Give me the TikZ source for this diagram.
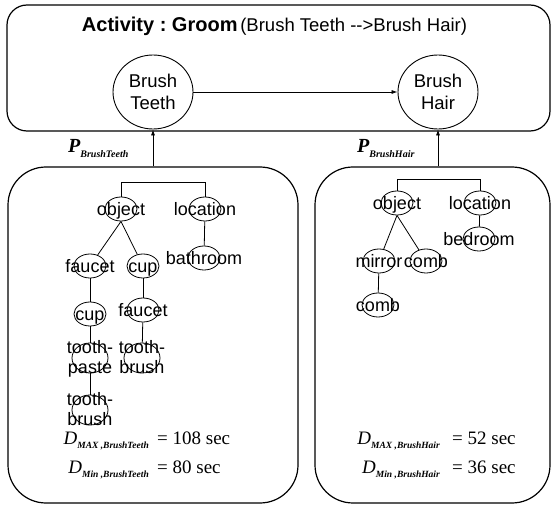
\documentclass[tikz,border=0pt]{standalone}
\usepackage{fontspec}
\setmainfont{Liberation Sans}
\newfontfamily\serifface{Liberation Serif}
\usetikzlibrary{shapes.geometric,arrows.meta}
\frenchspacing

% centred text that does not size its ellipse
\newcommand\tx[1]{\smash{\makebox[0pt]{\raisebox{-0.36em}{#1}}}}
\newcommand\txx[2]{\smash{\makebox[0pt]{\raisebox{-0.30em}{\begin{tabular}{@{}c@{}}#1\\#2\end{tabular}}}}}
% bold italic subscript
\newcommand\psub[1]{\raisebox{-5pt}{\fontsize{10}{10}\selectfont\bfseries\itshape #1}}
\newcommand\dsub[1]{\raisebox{-4.5pt}{\fontsize{9.5}{10}\selectfont\bfseries\itshape #1}}

\tikzset{
  panel/.style={draw, line width=1.2pt, rectangle, inner sep=0pt},
  act/.style={ellipse, draw, line width=0.9pt, inner sep=0pt, minimum width=80pt,
    minimum height=74pt, align=center, font=\fontsize{18.5}{22}\selectfont},
  tn/.style={ellipse, draw, line width=0.8pt, inner sep=0pt, minimum width=32pt,
    minimum height=24pt, font=\fontsize{18}{20}\selectfont},
  tnb/.style={tn, minimum width=36pt, minimum height=30pt},
  arr/.style={line width=0.8pt, -{Latex[length=6pt,width=4pt]}},
  edge/.style={line width=0.8pt},
  plabel/.style={anchor=base west, inner sep=0pt,
    font=\serifface\bfseries\itshape\fontsize{20}{20}\selectfont},
  dlhs/.style={anchor=base east, inner sep=0pt,
    font=\serifface\itshape\fontsize{19}{20}\selectfont},
  drhs/.style={anchor=base west, inner sep=0pt,
    font=\serifface\fontsize{19}{20}\selectfont},
}

\begin{document}
\begin{tikzpicture}[x=1pt, y=-1pt]
\useasboundingbox (0,0) rectangle (555,505);

% panels
\node[panel, rounded corners=20pt, minimum width=543pt, minimum height=126pt] (top) at (278.5,68) {};
\node[panel, rounded corners=38pt, minimum width=290pt, minimum height=336pt] (lp) at (153,335) {};
\node[panel, rounded corners=38pt, minimum width=235pt, minimum height=336pt] (rp) at (432.5,335) {};

% activity level
\node[anchor=base, inner sep=0pt] (title) at (274.5,32)
  {{\fontsize{20}{24}\selectfont\bfseries Activity : Groom} {\fontsize{18.5}{22}\selectfont (Brush Teeth -{}->Brush Hair)}};
\node[act] (bt) at (153,92) {Brush\\Teeth};
\node[act] (bh) at (438,92) {Brush\\Hair};
\draw[arr] (bt) -- (bh);

% links from the panels up to the actions
\draw[arr] (lp.north -| bt) -- (bt.south);
\draw[arr] (rp.north -| bh) -- (bh.south);
\node[plabel] (pbt) at (68,153) {P\psub{BrushTeeth}};
\node[plabel] (pbh) at (357,153) {P\psub{BrushHair}};

% Brush Teeth tree
\node[tn] (lobj) at (121,209) {\tx{object}};
\node[tn] (lloc) at (205,209) {\tx{location}};
\node[tn] (lfa1) at (90,266) {\tx{faucet}};
\node[tn] (lcu1) at (143,266) {\tx{cup}};
\node[tn] (lbat) at (204,258) {\tx{bathroom}};
\node[tn] (lcu2) at (90,314) {\tx{cup}};
\node[tn] (lfa2) at (143,310) {\tx{faucet}};
\node[tnb] (ltp) at (90,358) {\txx{tooth-}{paste}};
\node[tnb] (ltb1) at (142,358) {\txx{tooth-}{brush}};
\node[tnb] (ltb2) at (90,410) {\txx{tooth-}{brush}};

\draw[edge] (lobj.north) -- ++(0,-14) -| (lloc.north);
\draw[edge] (lobj.south) -- (lfa1);
\draw[edge] (lobj.south) -- (lcu1);
\draw[edge] (lloc) -- (lbat);
\draw[edge] (lfa1) -- (lcu2);
\draw[edge] (lcu1) -- (lfa2);
\draw[edge] (lcu2) -- (ltp);
\draw[edge] (lfa2) -- (ltb1);
\draw[edge] (ltp) -- (ltb2);

% Brush Hair tree
\node[tn] (robj) at (397,203) {\tx{object}};
\node[tn] (rloc) at (480,203) {\tx{location}};
\node[tn] (rbed) at (479,239) {\tx{bedroom}};
\node[tn] (rmir) at (379,261) {\tx{mirror}};
\node[tn] (rcb1) at (426,261) {\tx{comb}};
\node[tn] (rcb2) at (378,305) {\tx{comb}};

\draw[edge] (robj.north) -- ++(0,-11) -| (rloc.north);
\draw[edge] (robj.south) -- (rmir);
\draw[edge] (robj.south) -- (rcb1);
\draw[edge] (rloc) -- (rbed);
\draw[edge] (rmir) -- (rcb2);

% durations
\node[dlhs] (ldmax) at (149,444) {D\dsub{MAX ,BrushTeeth}};
\node[drhs] (ldmaxv) at (157,444) {= 108 sec};
\node[dlhs] (ldmin) at (149,473) {D\dsub{Min ,BrushTeeth}};
\node[drhs] (ldminv) at (157,473) {= 80 sec};
\node[dlhs] (rdmax) at (440,444) {D\dsub{MAX ,BrushHair}};
\node[drhs] (rdmaxv) at (452,444) {= 52 sec};
\node[dlhs] (rdmin) at (440,473) {D\dsub{Min ,BrushHair}};
\node[drhs] (rdminv) at (452,473) {= 36 sec};
\end{tikzpicture}
\end{document}
